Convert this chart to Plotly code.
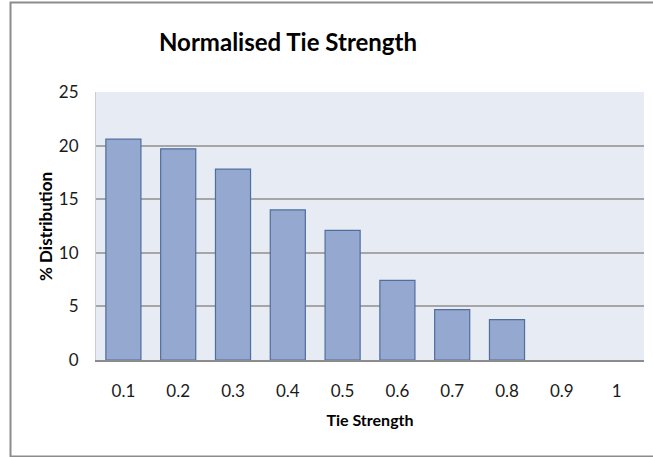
import plotly.graph_objects as go

# Normalised tie strength distribution
tie_strength = ["0.1", "0.2", "0.3", "0.4", "0.5", "0.6", "0.7", "0.8", "0.9", "1"]
pct_distribution = [20.6, 19.7, 17.8, 14.0, 12.1, 7.43, 4.7, 3.76, 0, 0]
y_ticks = [0, 5, 10, 15, 20, 25]

W, H = 653, 457
L, R, T, B = 96, 9, 92, 97
pw, ph = W - L - R, H - T - B

FONT = "Lato, 'Open Sans', sans-serif"

# empty categories get no outline so nothing is drawn on the baseline
outline_widths = [1.2 if v > 0 else 0 for v in pct_distribution]

fig = go.Figure(
    go.Bar(
        x=tie_strength,
        y=pct_distribution,
        marker=dict(color="#95A9D0", line=dict(color="#4F6E9E", width=outline_widths)),
        hoverinfo="x+y",
    )
)


def px_x(v):
    return (v - L) / pw


def px_y(v):
    return (H - B - v) / ph


# outer chart frame (runs past the right edge)
fig.add_shape(
    type="rect", xref="paper", yref="paper",
    x0=px_x(10.5), x1=px_x(670), y0=px_y(456.5), y1=px_y(2.5),
    line=dict(color="#8C8C8C", width=2), fillcolor="rgba(0,0,0,0)", layer="below",
)

# vertical axis title
fig.add_annotation(
    text="<b>% Distribution</b>", textangle=-90,
    xref="paper", yref="paper", x=px_x(45.5), y=px_y(226.5),
    xanchor="center", yanchor="middle", showarrow=False,
    font=dict(family=FONT, size=17, color="black"),
)

fig.update_layout(
    width=W, height=H,
    margin=dict(l=L, r=R, t=T, b=B),
    paper_bgcolor="white",
    plot_bgcolor="#E7ECF4",
    bargap=0.36,
    showlegend=False,
    title=dict(
        text="<b>Normalised Tie Strength</b>",
        font=dict(family=FONT, size=24, color="black"),
        x=288 / W, xanchor="center", xref="container",
        y=1 - 43 / H, yanchor="middle",
    ),
    xaxis=dict(
        type="category",
        showgrid=False,
        showline=True, linecolor="#8C8C8C", linewidth=1.5,
        ticks="", tickfont=dict(family=FONT, size=17, color="#1a1a1a"),
        ticklabelstandoff=15,
        title=dict(text="<b>Tie Strength</b>", font=dict(family=FONT, size=16, color="black"), standoff=15),
    ),
    yaxis=dict(
        range=[0, 25],
        tickvals=y_ticks,
        showgrid=True, gridcolor="#A6A6A6", gridwidth=1.5,
        zeroline=False,
        showline=True, linecolor="#C8CCD4", linewidth=1,
        ticks="", tickfont=dict(family=FONT, size=17, color="#1a1a1a"),
        ticklabelstandoff=13,
    ),
)

fig.write_html("out.html")
